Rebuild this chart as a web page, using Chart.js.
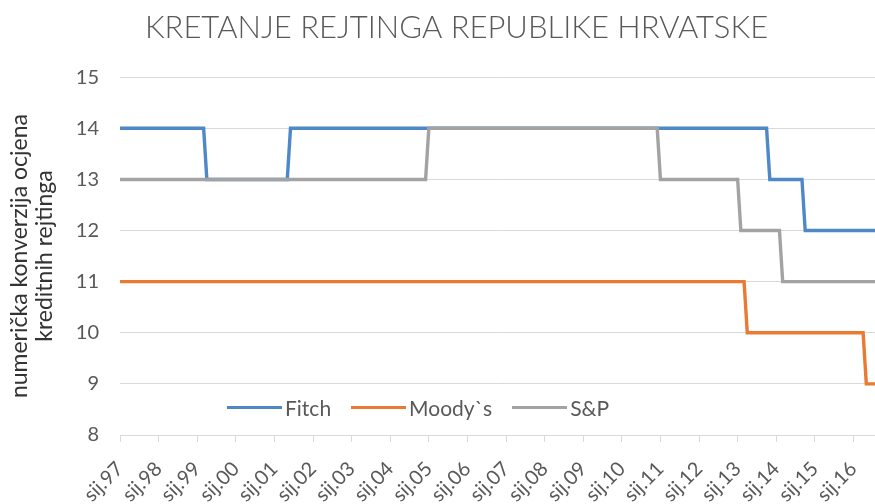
<!DOCTYPE html>
<html>
<head>
<meta charset="utf-8">
<script src="https://cdn.jsdelivr.net/npm/chart.js@4.4.1/dist/chart.umd.min.js"></script>
<style>
    html, body { margin: 0; padding: 0; background: #fff; }
    #wrap { position: relative; width: 875px; height: 504px; }
    #legend {
        position: absolute; left: 227px; top: 394px; height: 26px;
        font-family: Lato, "Open Sans", sans-serif; font-size: 21px; color: #595959;
        display: flex; align-items: center; white-space: nowrap;
    }
    #legend .item { display: flex; align-items: center; margin-right: 20px; }
    #legend .swatch { display: inline-block; width: 55px; height: 3px; margin-right: 3px; }
</style>
</head>
<body>
<div id="wrap">
    <canvas id="ratingChart" width="875" height="504"></canvas>
    <div id="legend"></div>
</div>
<script>
// x os: mjeseci od sij.97 (0 = siječanj 1997)
const yearLabels = ['sij.97', 'sij.98', 'sij.99', 'sij.00', 'sij.01', 'sij.02', 'sij.03', 'sij.04', 'sij.05', 'sij.06',
    'sij.07', 'sij.08', 'sij.09', 'sij.10', 'sij.11', 'sij.12', 'sij.13', 'sij.14', 'sij.15', 'sij.16'];
const lastMonth = 234.7;

// rejting po agenciji: mjesec promjene i vrijednost
const fitchMonths = [0, 26, 27, 52, 53, 201, 202, 212, 213, lastMonth];
const fitchValues = [14, 14, 13, 13, 14, 14, 13, 13, 12, 12];
const moodysMonths = [0, 194, 195, 231, 232, lastMonth];
const moodysValues = [11, 11, 10, 10, 9, 9];
const spMonths = [0, 95, 96, 167, 168, 192, 193, 205, 206, lastMonth];
const spValues = [13, 13, 14, 14, 13, 13, 12, 12, 11, 11];

const seriesNames = ['Fitch', 'Moody`s', 'S&P'];
const seriesColors = ['#4e88c7', '#ea7a32', '#a3a3a3'];

const fontFamily = 'Lato, "Open Sans", sans-serif';

function toPoints(months, values) {
    return months.map((m, i) => ({ x: m, y: values[i] }));
}

// naslov je u originalu malo desno od sredine
const titleShift = {
    id: 'titleShift',
    afterLayout(chart) {
        if (chart.titleBlock) {
            chart.titleBlock.left += 19;
            chart.titleBlock.right += 19;
        }
    }
};

const ctx = document.getElementById('ratingChart').getContext('2d');
const ratingChart = new Chart(ctx, {
    type: 'line',
    data: {
        datasets: [
            { label: seriesNames[0], data: toPoints(fitchMonths, fitchValues), borderColor: seriesColors[0], order: 2 },
            { label: seriesNames[1], data: toPoints(moodysMonths, moodysValues), borderColor: seriesColors[1], order: 1 },
            { label: seriesNames[2], data: toPoints(spMonths, spValues), borderColor: seriesColors[2], order: 0 }
        ]
    },
    plugins: [titleShift],
    options: {
        responsive: false,
        animation: false,
        layout: { padding: 0 },
        elements: {
            line: { borderWidth: 3.4, tension: 0, borderCapStyle: 'butt', borderJoinStyle: 'miter' },
            point: { radius: 0 }
        },
        plugins: {
            legend: { display: false },
            tooltip: { enabled: false },
            title: {
                display: true,
                text: 'KRETANJE REJTINGA REPUBLIKE HRVATSKE',
                color: '#595959',
                font: { family: fontFamily, size: 31, weight: '300', lineHeight: 1.2 },
                padding: { top: 9, bottom: 31 }
            }
        },
        scales: {
            x: {
                type: 'linear',
                min: 0,
                max: lastMonth,
                border: { display: true, color: '#d9d9d9', width: 1 },
                grid: { drawOnChartArea: false, drawTicks: true, tickLength: 7, color: '#d9d9d9' },
                ticks: {
                    stepSize: 12,
                    includeBounds: false,
                    autoSkip: false,
                    maxRotation: 45,
                    minRotation: 45,
                    padding: 15,
                    color: '#595959',
                    font: { family: fontFamily, size: 20 },
                    callback: function (value) {
                        return yearLabels[Math.round(value / 12)];
                    }
                },
                afterFit: function (scale) {
                    scale.height = 69;
                    scale.paddingLeft = 0;
                    scale.paddingRight = 0;
                }
            },
            y: {
                min: 8,
                max: 15,
                border: { display: false },
                grid: { color: '#d9d9d9', drawTicks: false },
                ticks: {
                    stepSize: 1,
                    padding: 21,
                    color: '#595959',
                    font: { family: fontFamily, size: 20 }
                },
                title: {
                    display: true,
                    text: ['numerička konverzija ocjena', 'kreditnih rejtinga'],
                    color: '#333333',
                    font: { family: fontFamily, size: 23, lineHeight: 1.05 },
                    padding: { top: 8, bottom: 0 }
                },
                afterFit: function (scale) { scale.width = 120; }
            }
        }
    }
});

// legenda unutar područja grafa
const legendEl = document.getElementById('legend');
seriesNames.forEach((name, i) => {
    const item = document.createElement('span');
    item.className = 'item';
    const sw = document.createElement('span');
    sw.className = 'swatch';
    sw.style.background = seriesColors[i];
    const txt = document.createElement('span');
    txt.textContent = name;
    item.appendChild(sw);
    item.appendChild(txt);
    legendEl.appendChild(item);
});
</script>
</body>
</html>
